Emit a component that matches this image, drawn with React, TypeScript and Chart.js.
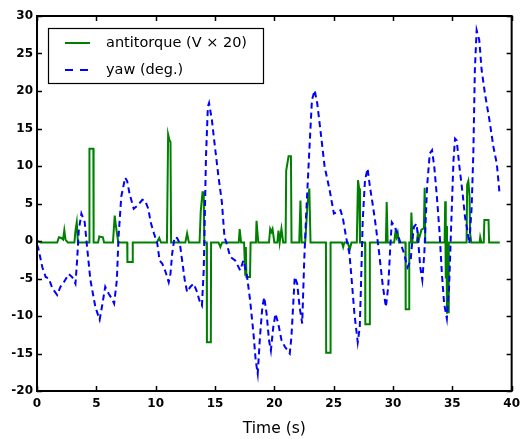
import React, { useEffect, useRef } from "react";
import { Chart, registerables } from "chart.js";

Chart.register(...registerables);

const seriesLabels = ["antitorque (V \u00d7 20)", "yaw (deg.)"];
const xTickValues = [0, 5, 10, 15, 20, 25, 30, 35, 40];
const yTickValues = [-20, -15, -10, -5, 0, 5, 10, 15, 20, 25, 30];

const antitorqueTime = [
  0, 0.3, 1.7, 1.85, 2.05, 2.2, 2.3, 2.4, 2.6, 3.15, 3.25, 3.35, 3.45, 4.4, 4.42, 4.75, 4.77,
  5.15, 5.25, 5.55, 5.65, 6.4, 6.55, 6.65, 6.85, 7.6, 7.62, 8.05, 8.07, 10.1, 10.3, 10.45,
  10.95, 11.05, 11.15, 11.25, 11.3, 12.5, 12.65, 12.8, 13.7, 13.8, 13.95, 14.05, 14.1, 14.3,
  14.32, 14.65, 14.67, 15.3, 15.45, 15.6, 17.0, 17.08, 17.2, 17.45, 17.55, 17.6, 17.65, 17.95,
  18.0, 18.45, 18.5, 18.65, 19.55, 19.65, 19.75, 19.85, 20.0, 20.25, 20.35, 20.45, 20.6, 20.75,
  20.95, 21.0, 21.2, 21.4, 21.45, 22.1, 22.2, 22.3, 22.6, 22.8, 22.95, 23.05, 24.35, 24.37,
  24.72, 24.74, 25.7, 25.8, 25.9, 26.2, 26.35, 26.5, 26.95, 27.05, 27.15, 27.22, 27.65, 27.67,
  28.03, 28.05, 29.4, 29.47, 29.55, 30.1, 30.2, 30.3, 30.4, 30.5, 31.05, 31.07, 31.35, 31.37,
  31.5, 31.55, 31.65, 32.0, 32.1, 32.2, 32.4, 32.6, 32.67, 32.72, 34.35, 34.4, 34.45, 34.5,
  34.55, 34.6, 34.65, 34.7, 36.2, 36.25, 36.35, 36.45, 36.5, 36.6, 37.3, 37.35, 37.45, 37.65,
  37.7, 38.05, 38.1, 39.0,
];
const antitorqueValues = [
  0, -0.2, -0.2, 0.5, 0.4, 0.2, 1.4, 0.2, -0.2, -0.2, 1.5, 2.5, -0.2, -0.2, 12.3, 12.3, -0.2,
  -0.2, 0.6, 0.5, -0.2, -0.2, 3.4, 2.0, -0.2, -0.2, -2.8, -2.8, -0.2, -0.2, 0.4, -0.2,
  -0.2, 14.2, 13.5, 13.2, -0.2, -0.2, 1.0, -0.2, -0.2, 4.0, 6.5, 6.5, -0.2, -0.2,
  -13.5, -13.5, -0.2, -0.2, -0.8, -0.2, -0.2, 1.6, -0.2, -0.2, -4.5, -0.8, -4.8, -4.8,
  -0.2, -0.2, 2.7, -0.2, -0.2, 1.6, 1.2, 1.6, -0.2, -0.2, 1.4, -0.2, 1.6, -0.2,
  -0.2, 9.4, 11.3, 11.3, -0.2, -0.2, 5.4, -0.2, -0.2, 5.0, 7.0, -0.2, -0.2, -14.9,
  -14.9, -0.2, -0.2, -0.8, -0.2, -0.2, -1.2, -0.2, -0.2, 8.1, 7.0, -0.2, -0.2, -11.1,
  -11.1, -0.2, -0.2, 5.2, -0.2, -0.2, 1.1, 0.5, 1.1, -0.2, -0.2, -9.1, -9.1, -0.2,
  -0.2, 3.8, -0.2, -0.2, 1.0, 0.3, 1.5, 1.7, 7.1, -0.2, -0.2, 5.3, -5.0, 2.0,
  -9.7, -3.0, -9.5, -0.2, -0.2, 7.5, 8.0, 6.0, 1.0, -0.2, -0.2, 0.5, -0.2, -0.2,
  2.8, 2.8, -0.2, -0.2,
];

const yawTime = [
  0, 0.1, 0.45, 0.73, 1.0, 1.29, 1.7, 1.98, 2.26, 2.68, 2.96, 3.24, 3.38, 3.52, 3.74, 4.02,
  4.22, 4.5, 4.92, 5.28, 5.47, 5.75, 6.03, 6.31, 6.5, 6.73, 6.87, 7.1, 7.43, 7.6, 7.8, 8.15,
  8.46, 8.88, 9.1, 9.38, 9.58, 9.86, 10.14, 10.33, 10.55, 10.83, 11.1, 11.25, 11.39, 11.59,
  11.81, 12.04, 12.23, 12.45, 12.65, 12.93, 13.2, 13.49, 13.68, 13.9, 14.05, 14.13, 14.24,
  14.4, 14.5, 14.74, 15.03, 15.3, 15.58, 15.8, 16.0, 16.28, 16.7, 17.12, 17.39, 17.67, 17.96,
  18.24, 18.43, 18.6, 18.79, 18.99, 19.15, 19.35, 19.55, 19.71, 19.91, 20.1, 20.33, 20.6,
  20.89, 21.3, 21.44, 21.58, 21.72, 21.93, 22.13, 22.35, 22.52, 22.7, 22.98, 23.17, 23.4,
  23.62, 23.95, 24.24, 24.66, 25.02, 25.35, 25.58, 25.77, 26.05, 26.33, 26.52, 26.75, 27.03,
  27.2, 27.3, 27.45, 27.64, 27.86, 28.06, 28.28, 28.56, 28.84, 29.12, 29.4, 29.6, 29.77,
  29.9, 30.15, 30.37, 30.65, 30.94, 31.22, 31.49, 31.63, 31.77, 31.99, 32.1, 32.3, 32.47,
  32.64, 32.87, 33.1, 33.29, 33.48, 33.7, 33.93, 34.12, 34.31, 34.54, 34.73, 34.9, 35.1,
  35.23, 35.37, 35.6, 35.87, 36.07, 36.27, 36.43, 36.63, 36.77, 36.9, 37.05, 37.27, 37.47,
  37.75, 38.13, 38.47, 38.75, 38.97,
];
const yawValues = [
  -0.5, -0.9, -3.5, -4.8, -5.0, -6.3, -7.2, -6.1, -5.5, -4.4, -4.8, -5.7, -2.6, 1.4, 3.65, 2.5,
  -0.8, -5.2, -8.8, -10.5, -8.8, -6.1, -7.0, -7.7, -8.35, -5.2, 0.5, 5.9, 8.45, 8.0, 6.3, 4.3,
  4.7, 5.5, 5.4, 4.3, 2.5, 1.0, -0.35, -2.6, -3.0, -4.1, -5.5, -4.35, -1.7, 0.5,
  0.4, -0.35, -2.6, -5.2, -6.8, -6.1, -5.7, -6.8, -7.9, -8.6, -3.9, 2.3, 11.2,
  17.9, 18.4, 16.1, 12.1, 8.5, 5.2, 0.5, -0.4, -2.1, -2.6, -3.9, -2.6, -4.35, -7.9,
  -12.3, -15.9, -17.7, -12.8, -8.8, -7.5, -9.7, -13.2, -14.6, -11.5, -9.7, -11.0, -13.2,
  -14.1, -15.0, -12.8, -8.8, -4.8, -5.7, -8.8, -11.0, -2.6, 4.1, 13.0, 18.8, 20.1,
  18.3, 13.9, 9.9, 6.8, 3.65, 3.9, 4.1, 3.1, 0.5, -1.7, -5.2, -9.7, -13.5,
  -11.5, -6.1, 2.76, 8.1, 9.65, 7.2, 5.0, 1.9, -1.7, -5.7, -8.8, -6.1, -0.8,
  2.5, 1.9, 1.0, -0.35, -1.7, -3.5, -2.6, 0.1, 1.9, 2.3, 0.5, -3.5, -5.2,
  -1.7, 7.2, 11.65, 12.1, 9.9, 5.9, 1.0, -4.35, -8.35, -10.35, -6.1, 1.9, 10.8,
  13.65, 13.4, 9.9, 6.3, 3.2, 1.4, -0.35, 4.5, 11.65, 22.8, 28.1, 26.8, 22.8,
  19.65, 16.1, 12.5, 10.3, 6.5,
];

const GREEN = "rgb(0,128,0)";
const BLUE = "rgb(0,0,255)";
const FONT = "'DejaVu Sans', sans-serif";

const framePlugin = {
  id: "framePlugin",
  afterDraw(chart: any) {
    const { ctx, chartArea: a, scales } = chart;
    const xs = scales.x;
    const ys = scales.y;
    ctx.save();
    ctx.strokeStyle = "#000";
    ctx.lineWidth = 1.5;
    ctx.beginPath();
    xTickValues.forEach((v) => {
      const px = Math.round(xs.getPixelForValue(v)) + 0.5;
      ctx.moveTo(px, a.bottom);
      ctx.lineTo(px, a.bottom - 5);
      ctx.moveTo(px, a.top);
      ctx.lineTo(px, a.top + 5);
    });
    yTickValues.forEach((v) => {
      const py = Math.round(ys.getPixelForValue(v)) + 0.5;
      ctx.moveTo(a.left, py);
      ctx.lineTo(a.left + 5, py);
      ctx.moveTo(a.right, py);
      ctx.lineTo(a.right - 5, py);
    });
    ctx.stroke();
    ctx.lineWidth = 2;
    ctx.strokeRect(a.left, a.top, a.right - a.left, a.bottom - a.top);

    // legend box
    const lx = 48;
    const ly = 28;
    const lw = 215;
    const lh = 55;
    ctx.fillStyle = "#fff";
    ctx.fillRect(lx, ly, lw, lh);
    ctx.lineWidth = 1.2;
    ctx.strokeRect(lx + 0.5, ly + 0.5, lw, lh);
    const ds = chart.data.datasets;
    const rows = [43, 70];
    ds.forEach((d: any, i: number) => {
      const y = rows[i];
      ctx.strokeStyle = d.borderColor;
      ctx.lineWidth = 2;
      ctx.setLineDash(i === 1 ? [8, 7] : []);
      ctx.beginPath();
      ctx.moveTo(65, y);
      ctx.lineTo(90, y);
      ctx.stroke();
      ctx.setLineDash([]);
      ctx.fillStyle = "#000";
      ctx.font = "14.5px " + FONT;
      ctx.textBaseline = "middle";
      ctx.textAlign = "left";
      ctx.fillText(d.label, 106, y);
    });
    ctx.restore();
  },
};

export default function App() {
  const canvasRef = useRef<HTMLCanvasElement | null>(null);

  useEffect(() => {
    const canvas = canvasRef.current;
    if (!canvas) return;
    const chart = new Chart(canvas, {
      type: "line",
      data: {
        datasets: [
          {
            label: seriesLabels[0],
            data: antitorqueTime.map((t, i) => ({ x: t, y: antitorqueValues[i] })),
            borderColor: GREEN,
            backgroundColor: GREEN,
            borderWidth: 2,
            pointRadius: 0,
            tension: 0,
            fill: false,
            order: 2,
          },
          {
            label: seriesLabels[1],
            data: yawTime.map((t, i) => ({ x: t, y: yawValues[i] })),
            borderColor: BLUE,
            backgroundColor: BLUE,
            borderWidth: 2,
            borderDash: [6, 4],
            pointRadius: 0,
            tension: 0,
            fill: false,
            order: 1,
          },
        ],
      },
      options: {
        responsive: false,
        maintainAspectRatio: false,
        animation: false,
        events: [],
        layout: { padding: { top: 16, right: 11, left: 0, bottom: 0 } },
        plugins: {
          legend: { display: false },
          tooltip: { enabled: false },
          title: { display: false },
        },
        scales: {
          x: {
            type: "linear",
            min: 0,
            max: 40,
            afterBuildTicks: (s: any) => {
              s.ticks = xTickValues.map((v) => ({ value: v }));
            },
            afterFit: (s: any) => {
              s.height = 48;
            },
            grid: { display: false, drawTicks: false },
            border: { display: false },
            ticks: {
              autoSkip: false,
              maxRotation: 0,
              padding: 6,
              color: "#000",
              font: { family: FONT, size: 12, weight: "bold" },
            },
            title: {
              display: true,
              text: "Time (s)",
              color: "#000",
              font: { family: FONT, size: 15.5 },
              padding: { top: 0, bottom: 1 },
            },
          },
          y: {
            type: "linear",
            min: -20,
            max: 30,
            afterBuildTicks: (s: any) => {
              s.ticks = yTickValues.map((v) => ({ value: v }));
            },
            afterFit: (s: any) => {
              s.width = 37;
            },
            grid: { display: false, drawTicks: false },
            border: { display: false },
            ticks: {
              autoSkip: false,
              padding: 4,
              color: "#000",
              font: { family: FONT, size: 12, weight: "bold" },
            },
          },
        },
      },
      plugins: [framePlugin],
    });
    return () => chart.destroy();
  }, []);

  return (
    <div style={{ position: "fixed", left: 0, top: 0, width: 526, height: 439, background: "#fff" }}>
      <canvas ref={canvasRef} width={526} height={439} style={{ width: 526, height: 439, display: "block" }} />
    </div>
  );
}
